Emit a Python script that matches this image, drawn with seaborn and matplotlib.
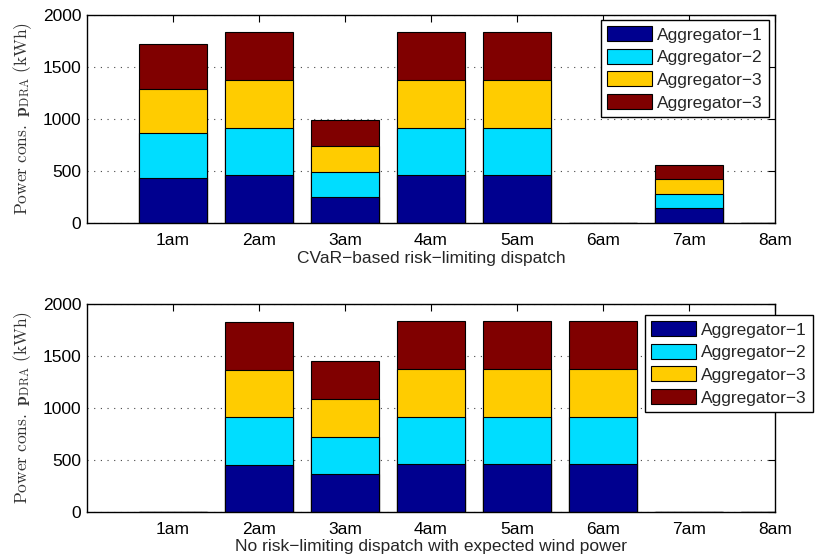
import numpy as np
import pandas as pd
import matplotlib
matplotlib.use("Agg")
import matplotlib.pyplot as plt
from matplotlib.patches import Patch
import seaborn as sns

# Hourly slots on the x axis
hours = ["1am", "2am", "3am", "4am", "5am", "6am", "7am", "8am"]

# Legend entries (as printed in the figure)
legend_labels = ["Aggregator−1", "Aggregator−2", "Aggregator−3", "Aggregator−3"]
colors = ["#00008F", "#00DDFF", "#FFCC00", "#800000"]

# CVaR-based risk-limiting dispatch: energy per aggregator (kWh)
cvar_agg1 = [430, 459, 247, 459, 459, 0, 140, 0]
cvar_agg2 = [432, 459, 247, 459, 459, 0, 138, 0]
cvar_agg3 = [430, 458, 248, 458, 458, 0, 142, 0]
cvar_agg4 = [432, 460, 247, 460, 460, 0, 140, 0]

# No risk-limiting dispatch with expected wind power (kWh)
exp_agg1 = [2, 456, 363, 459, 459, 459, 2, 2]
exp_agg2 = [0, 455, 360, 459, 459, 459, 0, 0]
exp_agg3 = [0, 457, 360, 459, 459, 459, 0, 0]
exp_agg4 = [0, 460, 366, 459, 459, 459, 0, 0]

panels = [
    ("CVaR−based risk−limiting dispatch", [cvar_agg1, cvar_agg2, cvar_agg3, cvar_agg4]),
    ("No risk−limiting dispatch with expected wind power", [exp_agg1, exp_agg2, exp_agg3, exp_agg4]),
]

sns.set_style("white")
plt.rcParams["font.family"] = ["Liberation Sans", "DejaVu Sans"]
plt.rcParams["mathtext.fontset"] = "cm"

FS = 12.5

fig = plt.figure(figsize=(8.15, 5.59), dpi=100)
rects = [
    [87 / 815, 1 - 223 / 559, 688 / 815, 208 / 559],
    [87 / 815, 1 - 512 / 559, 688 / 815, 208 / 559],
]
legend_anchors = [(769 / 815, 1 - 20 / 559), (813 / 815, 1 - 315 / 559)]

for rect, (xlabel, series), anchor in zip(rects, panels, legend_anchors):
    ax = fig.add_axes(rect)
    ax.set_axisbelow(True)
    ax.yaxis.grid(True, linestyle=(0, (1, 5)), color="#444444", linewidth=0.8)
    ax.xaxis.grid(False)

    cum = np.cumsum(np.array(series, dtype=float), axis=0)
    # draw cumulative totals from the top layer down so each stack segment shows
    for level in range(len(series) - 1, -1, -1):
        df = pd.DataFrame({"hour": hours, "total": cum[level]})
        sns.barplot(data=df, x="hour", y="total", order=hours, color=colors[level],
                    saturation=1, width=0.8, edgecolor="black", linewidth=0.8,
                    errorbar=None, ax=ax)

    ax.set_xlim(-1, 7)
    ax.set_ylim(0, 2000)
    ax.set_yticks([0, 500, 1000, 1500, 2000])
    ax.tick_params(direction="in", top=True, right=True, length=5, width=0.8,
                   labelsize=FS, colors="black")
    ax.tick_params(axis="x", pad=7)
    ax.tick_params(axis="y", pad=4)
    for s in ax.spines.values():
        s.set_visible(True)
        s.set_color("black")
        s.set_linewidth(1.0)
    ax.set_xlabel(xlabel, fontsize=FS, labelpad=2)
    ax.set_ylabel(r"$\mathrm{Power\ cons.}\ \mathbf{p}_{\mathrm{DRA}}\ \mathrm{(kWh)}$",
                  fontsize=12.5, color="#333333")
    ax.yaxis.set_label_coords(-0.077, 0.5)

    handles = [Patch(facecolor=c, edgecolor="black", linewidth=0.8) for c in colors]
    leg = ax.legend(handles, legend_labels, loc="upper right", bbox_to_anchor=anchor,
                    bbox_transform=fig.transFigure, borderaxespad=0, fontsize=FS,
                    frameon=True, fancybox=False, framealpha=1, edgecolor="black",
                    handlelength=2.6, handleheight=0.95, handletextpad=0.3,
                    labelspacing=0.36, borderpad=0.35)
    leg.get_frame().set_linewidth(1.0)

fig.savefig("out.png", dpi=100)
